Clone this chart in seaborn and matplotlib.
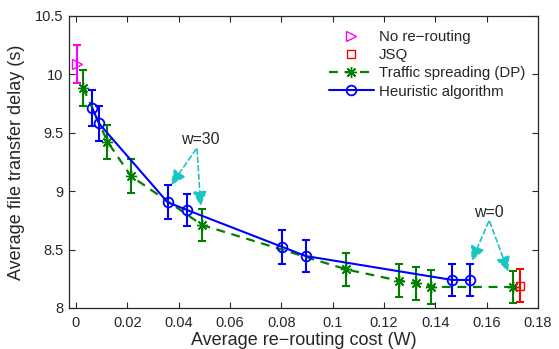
import matplotlib
matplotlib.use("Agg")
import matplotlib.pyplot as plt
import seaborn as sns
import pandas as pd

# Data
norr_x = [0.0006]
norr_y = [10.09]
norr_err = [0.16]

jsq_x = [0.1731]
jsq_y = [8.19]
jsq_err = [0.14]

dp_x = [0.0028, 0.0123, 0.0214, 0.0492, 0.1054, 0.1258, 0.1326, 0.1383, 0.1701]
dp_y = [9.886, 9.424, 9.13, 8.71, 8.33, 8.234, 8.21, 8.18, 8.18]
dp_err = [0.155, 0.145, 0.145, 0.14, 0.14, 0.14, 0.14, 0.145, 0.14]

heu_x = [0.0064, 0.0090, 0.0357, 0.0432, 0.0801, 0.0895, 0.1466, 0.1534]
heu_y = [9.71, 9.58, 8.905, 8.84, 8.525, 8.445, 8.24, 8.24]
heu_err = [0.155, 0.15, 0.145, 0.14, 0.145, 0.14, 0.135, 0.135]

labels = ["No re\u2212routing", "JSQ", "Traffic spreading (DP)", "Heuristic algorithm"]
x_ticks = [0, 0.02, 0.04, 0.06, 0.08, 0.1, 0.12, 0.14, 0.16, 0.18]
x_ticklabels = ["0", "0.02", "0.04", "0.06", "0.08", "0.1", "0.12", "0.14", "0.16", "0.18"]
y_ticks = [8, 8.5, 9, 9.5, 10, 10.5]
y_ticklabels = ["8", "8.5", "9", "9.5", "10", "10.5"]

sns.set_style("ticks")
plt.rcParams['font.family'] = ['Liberation Sans', 'DejaVu Sans']
plt.rcParams['axes.unicode_minus'] = True

MAG = "#ff00ff"
RED = "#ff0000"
GRN = "#008000"
BLU = "#0000ff"
CYA = "#1cc4c4"

fig = plt.figure(figsize=(5.59, 3.49), dpi=100)
ax = fig.add_axes([0.1234, 0.1175, 0.8390, 0.8367])

dp_df = pd.DataFrame({"x": dp_x, "y": dp_y})
heu_df = pd.DataFrame({"x": heu_x, "y": heu_y})

# error bars
ax.errorbar(norr_x, norr_y, yerr=norr_err, fmt="none", ecolor=MAG, elinewidth=1.5, capsize=3, capthick=1.5, zorder=2)
ax.errorbar(jsq_x, jsq_y, yerr=jsq_err, fmt="none", ecolor=RED, elinewidth=1.5, capsize=3, capthick=1.5, zorder=2)
ax.errorbar(dp_x, dp_y, yerr=dp_err, fmt="none", ecolor=GRN, elinewidth=1.5, capsize=3, capthick=1.5, zorder=2)
ax.errorbar(heu_x, heu_y, yerr=heu_err, fmt="none", ecolor=BLU, elinewidth=1.5, capsize=3, capthick=1.5, zorder=3)

# markers-only series
ax.plot(norr_x, norr_y, linestyle="none", marker=">", markersize=7, markerfacecolor="none",
        markeredgecolor=MAG, markeredgewidth=1.0, label=labels[0], zorder=4)
ax.plot(jsq_x, jsq_y, linestyle="none", marker="s", markersize=6, markerfacecolor="none",
        markeredgecolor=RED, markeredgewidth=1.0, label=labels[1], zorder=4)

sns.lineplot(data=dp_df, x="x", y="y", ax=ax, sort=False, color=GRN, linewidth=1.6,
             linestyle=(0, (4, 3)), marker=(8, 2, 0), markersize=8, markeredgecolor=GRN,
             markeredgewidth=1.0, label=labels[2], zorder=3)
sns.lineplot(data=heu_df, x="x", y="y", ax=ax, sort=False, color=BLU, linewidth=1.5,
             marker="o", markersize=7, markerfacecolor="none", markeredgecolor=BLU,
             markeredgewidth=1.3, label=labels[3], zorder=4)

# annotations
arrow_kw = dict(arrowstyle="-|>,head_length=0.9,head_width=0.42", color=CYA, lw=1.2,
                linestyle=(0, (3, 2)), shrinkA=0, shrinkB=0)
ax.text(0.0483, 9.44, "w=30", ha="center", va="center", fontsize=11.5)
ax.annotate("", xy=(0.0370, 9.05), xytext=(0.0468, 9.36), arrowprops=arrow_kw)
ax.annotate("", xy=(0.0486, 8.87), xytext=(0.0472, 9.36), arrowprops=arrow_kw)
ax.text(0.1610, 8.82, "w=0", ha="center", va="center", fontsize=11.5)
ax.annotate("", xy=(0.1541, 8.40), xytext=(0.1608, 8.74), arrowprops=arrow_kw)
ax.annotate("", xy=(0.1684, 8.31), xytext=(0.1612, 8.74), arrowprops=arrow_kw)

ax.set_xlim(-0.0027, 0.18)
ax.set_ylim(8, 10.5)
ax.set_xticks(x_ticks)
ax.set_xticklabels(x_ticklabels)
ax.set_yticks(y_ticks)
ax.set_yticklabels(y_ticklabels)
ax.tick_params(direction="in", top=True, right=True, length=4, width=0.8, labelsize=10.5)
ax.tick_params(axis="x", pad=6)
ax.tick_params(axis="y", pad=4)
for s in ax.spines.values():
    s.set_linewidth(0.9)
ax.set_xlabel("Average re\u2212routing cost (W)", fontsize=13, labelpad=1)
ax.set_ylabel("Average file transfer delay (s)", fontsize=13, labelpad=7)

handles, labs = ax.get_legend_handles_labels()
hmap = dict(zip(labs, handles))
ax.legend([hmap[l] for l in labels], labels, loc="upper left", frameon=False, fontsize=10.8,
          handlelength=3.0, handletextpad=0.35, labelspacing=0.28, borderpad=0, borderaxespad=0,
          bbox_to_anchor=(0.554, 0.952))

fig.savefig("out.png", dpi=100)
